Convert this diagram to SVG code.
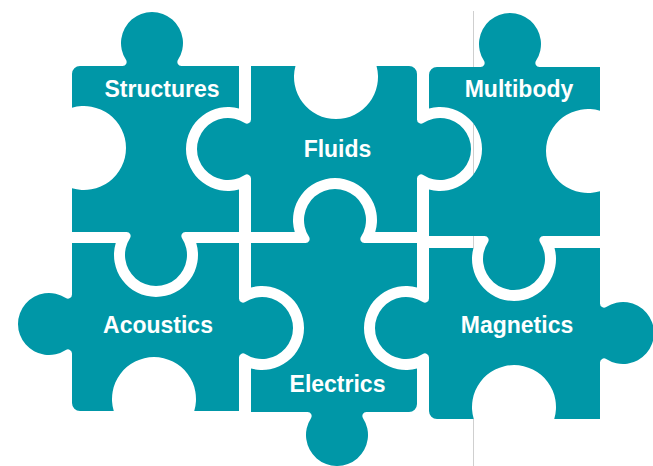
<svg xmlns="http://www.w3.org/2000/svg" width="653" height="466" viewBox="0 0 653 466">
  <style>
    .piece { fill: #0097a7; }
    .label { fill: #ffffff; font-family: "Liberation Sans", Arial, sans-serif; font-weight: bold; font-size: 23px; text-anchor: middle; }
    .guide { stroke: #cfcfcf; stroke-width: 1; fill: none; }
  </style>
  <rect width="653" height="466" fill="#ffffff"/>

  <!-- faint vertical guide line behind the pieces, broken where it crosses the sockets -->
  <g id="connectors">
    <path class="guide" d="M 473.5,11 V 67 M 473.5,124 V 174 M 473.5,236 V 248 M 473.5,419 V 466"/>
  </g>

  <!-- knobs: r=31 circle, centre 23px beyond the edge, 4px fillets; sockets: r=42 circle -->
  <g id="structures">
    <path class="piece" d="M 72,74 A 8 8 0 0 1 80,66 L 122.61,66 A 4 4 0 0 0 125.97,59.83 A 31 31 0 1 1 178.03,59.83 A 4 4 0 0 0 181.39,66 L 239,66 L 239,108.47 A 42 42 0 1 0 239,189.53 L 239,232 L 185.39,232 A 4 4 0 0 0 182.03,238.17 A 31 31 0 1 1 129.97,238.17 A 4 4 0 0 0 126.61,232 L 72,232 L 72,188.25 A 42 42 0 1 0 72,107.75 Z"/>
    <text class="label" x="162" y="97">Structures</text>
  </g>

  <g id="fluids">
    <path class="piece" d="M 251,66 L 295.47,66 A 42 42 0 1 0 376.53,66 L 409,66 A 8 8 0 0 1 417,74 L 417,119.61 A 4 4 0 0 0 423.17,122.97 A 31 31 0 1 1 423.17,175.03 A 4 4 0 0 0 417,178.39 L 417,232 L 375.25,232 A 42 42 0 1 0 294.75,232 L 251,232 L 251,178.39 A 4 4 0 0 0 244.83,175.03 A 31 31 0 1 1 244.83,122.97 A 4 4 0 0 0 251,119.61 Z"/>
    <text class="label" x="337.5" y="157">Fluids</text>
  </g>

  <g id="multibody">
    <path class="piece" d="M 429,75 A 8 8 0 0 1 437,67 L 480.61,67 A 4 4 0 0 0 483.97,60.83 A 31 31 0 1 1 536.03,60.83 A 4 4 0 0 0 539.39,67 L 600,67 L 600,110.75 A 42 42 0 1 0 600,191.25 L 600,236 L 543.39,236 A 4 4 0 0 0 540.03,242.17 A 31 31 0 1 1 487.97,242.17 A 4 4 0 0 0 484.61,236 L 429,236 L 429,189.53 A 42 42 0 1 0 429,108.47 Z"/>
    <text class="label" x="519" y="97">Multibody</text>
  </g>

  <g id="acoustics">
    <path class="piece" d="M 72,243 L 115.75,243 A 42 42 0 1 0 196.25,243 L 239,243 L 239,298.61 A 4 4 0 0 0 245.17,301.97 A 31 31 0 1 1 245.17,354.03 A 4 4 0 0 0 239,357.39 L 239,411 L 194.25,411 A 42 42 0 1 0 113.75,411 L 80,411 A 8 8 0 0 1 72,403 L 72,353.39 A 4 4 0 0 0 65.83,350.03 A 31 31 0 1 1 65.83,297.97 A 4 4 0 0 0 72,294.61 Z"/>
    <text class="label" x="158" y="333">Acoustics</text>
  </g>

  <g id="electrics">
    <path class="piece" d="M 251,243 L 305.61,243 A 4 4 0 0 0 308.97,236.83 A 31 31 0 1 1 361.03,236.83 A 4 4 0 0 0 364.39,243 L 417,243 L 417,287.47 A 42 42 0 1 0 417,368.53 L 417,404 A 8 8 0 0 1 409,412 L 366.39,412 A 4 4 0 0 0 363.03,418.17 A 31 31 0 1 1 310.97,418.17 A 4 4 0 0 0 307.61,412 L 251,412 L 251,368.53 A 42 42 0 1 0 251,287.47 Z"/>
    <text class="label" x="337.5" y="392">Electrics</text>
  </g>

  <g id="magnetics">
    <path class="piece" d="M 429,248 L 473.47,248 A 42 42 0 1 0 554.53,248 L 600,248 L 600,303.61 A 4 4 0 0 0 606.17,306.97 A 31 31 0 1 1 606.17,359.03 A 4 4 0 0 0 600,362.39 L 600,419 L 554.25,419 A 42 42 0 1 0 473.75,419 L 437,419 A 8 8 0 0 1 429,411 L 429,357.39 A 4 4 0 0 0 422.83,354.03 A 31 31 0 1 1 422.83,301.97 A 4 4 0 0 0 429,298.61 Z"/>
    <text class="label" x="517" y="333">Magnetics</text>
  </g>
</svg>
